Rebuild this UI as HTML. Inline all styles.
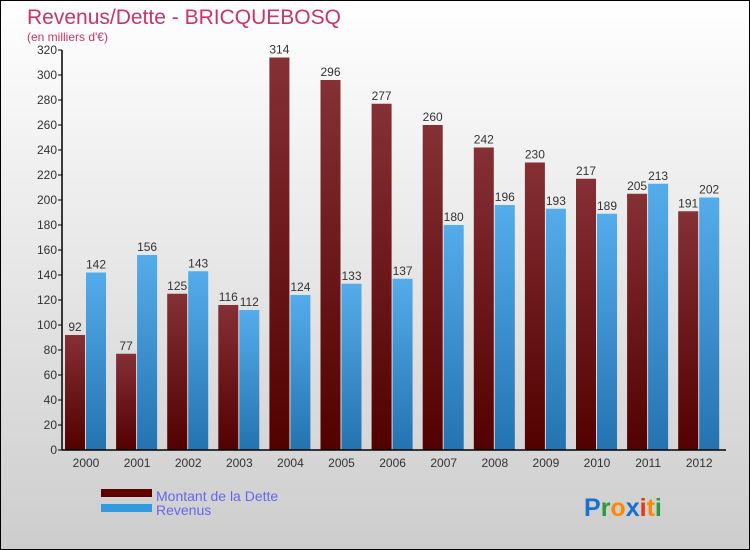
<!DOCTYPE html>
<html><head><meta charset="utf-8"><style>
body{margin:0}
#wrap{position:relative;width:748px;height:548px;border:1px solid #000;background:linear-gradient(#ffffff,#cdcdcd);overflow:hidden;font-family:"Liberation Sans",sans-serif}
</style></head><body>
<div id="wrap">
<svg id="chart" width="748" height="548">
<defs>
<linearGradient id="gd" x1="0" y1="0" x2="0" y2="1"><stop offset="0" stop-color="#853035"/><stop offset="1" stop-color="#520000"/></linearGradient>
<linearGradient id="gr" x1="0" y1="0" x2="0" y2="1"><stop offset="0" stop-color="#55acea"/><stop offset="1" stop-color="#2473b0"/></linearGradient>
</defs>
<text x="26" y="23" font-size="21" fill="#cc3366">Revenus/Dette - BRICQUEBOSQ</text>
<text x="26" y="40" font-size="12" fill="#cc3366">(en milliers d'€)</text>
<g id="grid"></g><g id="bars"></g><g id="axes"></g>
<rect x="100" y="488" width="51" height="8" fill="#5e0000"/>
<rect x="100" y="503" width="51" height="8" fill="#3399e0"/>
<text x="155" y="500" font-size="14" fill="#6666ee">Montant de la Dette</text>
<text x="155" y="514" font-size="14" fill="#6666ee">Revenus</text>
<text x="583" y="515" font-size="25" font-weight="bold"><tspan fill="#1a6fd0">P</tspan><tspan fill="#2a9a3a">r</tspan><tspan fill="#ff8800">o</tspan><tspan fill="#1a6fd0">x</tspan><tspan fill="#ee3311">i</tspan><tspan fill="#ff8800">t</tspan><tspan fill="#2a9a3a">i</tspan></text>
</svg></div>
<script>
const years=["2000","2001","2002","2003","2004","2005","2006","2007","2008","2009","2010","2011","2012"];
const dette=[92,77,125,116,314,296,277,260,242,230,217,205,191];
const revenus=[142,156,143,112,124,133,137,180,196,193,189,213,202];
const ticks=[0,20,40,60,80,100,120,140,160,180,200,220,240,260,280,300,320];
const NS="http://www.w3.org/2000/svg";
const x0=61,y0=449,ppu=1.25,step=51.1;
const y=v=>y0-v*ppu;
const gx=i=>x0+3+i*step;
function mk(t,a,p){const e=document.createElementNS(NS,t);for(const k in a)e.setAttribute(k,a[k]);p.appendChild(e);return e;}
const bars=document.getElementById('bars'),axes=document.getElementById('axes');
years.forEach((yr,i)=>{
 const x=gx(i);
 let r=mk('rect',{x:x,y:y(dette[i]),width:20,height:dette[i]*ppu,fill:'url(#gd)'},bars);
 
 
 let r2=mk('rect',{x:x+21,y:y(revenus[i]),width:20,height:revenus[i]*ppu,fill:'url(#gr)'},bars);
 
 
 let t=mk('text',{x:x+10,y:y(dette[i])-4,'font-size':12,fill:'#333','text-anchor':'middle'},bars);t.textContent=dette[i];
 
 
 let t2=mk('text',{x:x+31,y:y(revenus[i])-4,'font-size':12,fill:'#333','text-anchor':'middle'},bars);t2.textContent=revenus[i];
 
 
 let xl=mk('text',{x:x+21,y:466,'font-size':12,fill:'#333','text-anchor':'middle'},axes);xl.textContent=yr;
 
 
});
ticks.forEach(v=>{
 mk('line',{x1:x0-4,x2:x0,y1:y(v),y2:y(v),stroke:'#000'},axes);
 let t=mk('text',{x:x0-5,y:y(v)+4,'font-size':12,fill:'#333','text-anchor':'end'},axes);t.textContent=v;
 
 
});
let ya=mk('line',{x1:x0,x2:x0,y1:y(320),y2:y0,stroke:'#000','stroke-width':1.5},axes);


let xa=mk('line',{x1:x0,x2:725,y1:y0,y2:y0,stroke:'#000','stroke-width':1.5},axes);


</script>
</body></html>
